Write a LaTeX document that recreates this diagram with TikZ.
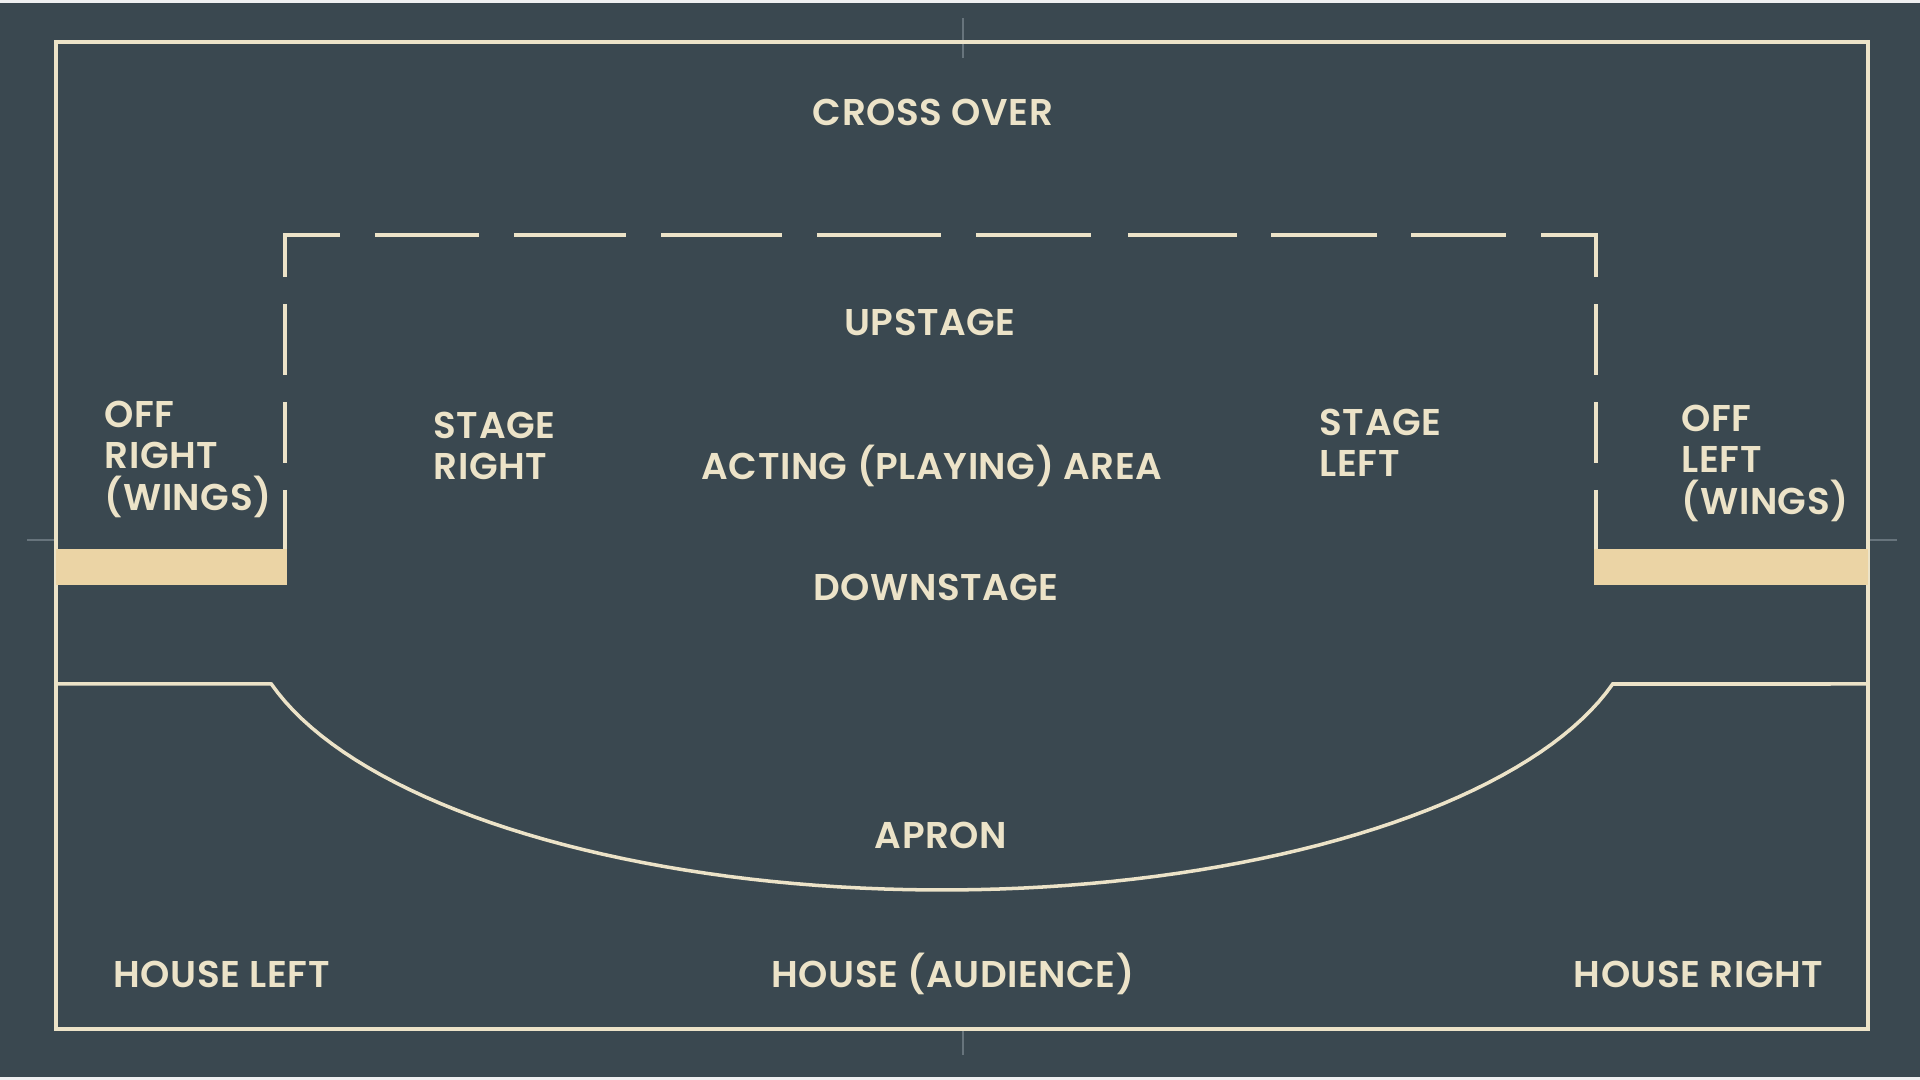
\documentclass[tikz,border=0pt]{standalone}
\usepackage{fontspec}
\setmainfont{Poppins}[UprightFont={* SemiBold}, LetterSpace=1.5]
\definecolor{slate}{HTML}{3A4850}
\definecolor{cream}{HTML}{ECE3C8}
\definecolor{tan}{HTML}{EBD4A5}
\definecolor{tick}{HTML}{67747C}

\begin{document}
\begin{tikzpicture}
          [x=0.01cm, y=-0.01cm, every node/.style={text=cream, inner sep=0, font=\fontsize{10.6pt}{11.8pt}\selectfont},
           wall/.style={line width=1.1pt, cream}, edge/.style={line width=1pt, cream},
           lbl/.style={align=left, anchor=west}]

          \fill[slate] (0,0) rectangle (1920,1080);
          \useasboundingbox (0,0) rectangle (1920,1080);
          \fill[white!92!slate] (0,0) rectangle (1920,3);
          \fill[white!92!slate] (0,1077) rectangle (1920,1080);

          % crop marks
          \draw[tick, line width=0.6pt] (963,18) -- (963,58);
          \draw[tick, line width=0.6pt] (963,1029) -- (963,1055);
          \draw[tick, line width=0.6pt] (27,540) -- (56,540);
          \draw[tick, line width=0.6pt] (1868,540) -- (1897,540);

          % outer wall
          \draw[wall] (56,42) rectangle (1868,1029);

          % wing bars
          \fill[tan] (56,549) rectangle (287,585);
          \fill[tan] (1594,549) rectangle (1868,585);

          % dashed acting area
          \draw[edge] (285,277) -- (285,235) -- (340,235);
          \draw[edge] (1596,277) -- (1596,235) -- (1541,235);
          \foreach \a/\b in {375/479, 514/626, 661/782, 817/941, 976/1091, 1128/1237, 1271/1377, 1411/1506}
            \draw[edge] (\a,235) -- (\b,235);
          \foreach \a/\b in {304/375, 402/463, 490/549} {
            \draw[edge] (285,\a) -- (285,\b);
            \draw[edge] (1596,\a) -- (1596,\b);
          }

          % stage edge and apron
          \draw[edge] (56,684) -- (271.3,684)
            -- plot[domain=164.21:15.79, samples=80] ({942+697*cos(\x)}, {607+283*sin(\x)})
            -- (1868,684);

          \node (cross) at (933,112) {CROSS OVER};
          \node (up) at (930,322) {UPSTAGE};
          \node (acting) at (932,466) {ACTING (PLAYING) AREA};
          \node (down) at (936,587) {DOWNSTAGE};
          \node[lbl] (sr) at (433,446) {STAGE\\RIGHT};
          \node[lbl] (sl) at (1319,443) {STAGE\\LEFT};
          \node[lbl] (offr) at (104,459) {OFF\\RIGHT\\(WINGS)};
          \node[lbl] (offl) at (1681,463) {OFF\\LEFT\\(WINGS)};
          \node (apron) at (941,835) {APRON};
          \node[lbl] (hl) at (113,974) {HOUSE LEFT};
          \node (house) at (953,974) {HOUSE (AUDIENCE)};
          \node[anchor=east] (hr) at (1824,974) {HOUSE RIGHT};

        \end{tikzpicture}
\end{document}
